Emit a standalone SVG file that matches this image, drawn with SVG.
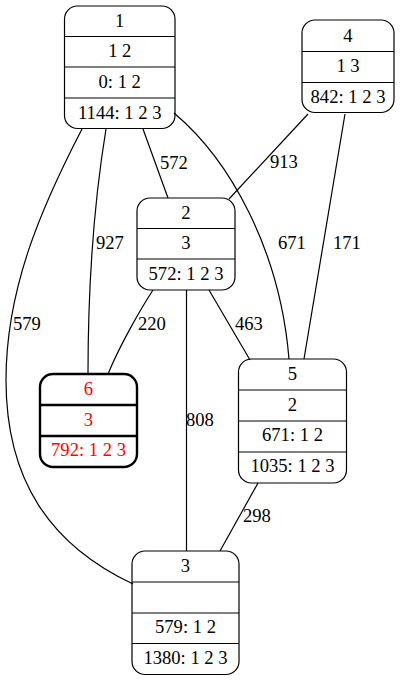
<svg xmlns="http://www.w3.org/2000/svg" width="406" height="680" viewBox="0 0 406 680" font-family="'Liberation Serif', 'DejaVu Serif', serif" font-size="18.6">
<style>
text{font-family:"Liberation Serif","DejaVu Serif",serif;font-size:18.6px;fill:#000}
.n text{text-anchor:middle}
.box{fill:none;stroke:#000;stroke-width:1.2}
.div{stroke:#000;stroke-width:1.2}
.e path{fill:none;stroke:#000;stroke-width:1.2}
.hl .box,.hl .div{stroke-width:2.4}
.hl text{fill:#ff0000}
</style>
<rect width="406" height="680" fill="#fff"/>
<g id="edges" class="e">
<path d="M143,129 L168,198"/>
<path d="M308,114 L229,199"/>
<path d="M174,113 C230,160 280,250 289,359"/>
<path d="M345,114 L304,359"/>
<path d="M106,129 C96,190 88,270 88,374"/>
<path d="M82,129 C40,210 6,290 6,380 C6,480 50,545 133,584"/>
<path d="M153,290 C140,310 120,345 108,374"/>
<path d="M209,290 L250,360"/>
<path d="M186.5,290 L186.5,551"/>
<path d="M258,483 L220,551"/>
<text x="160" y="169">572</text>
<text x="270" y="168">913</text>
<text x="96" y="249">927</text>
<text x="278" y="249">671</text>
<text x="333" y="249">171</text>
<text x="13" y="330">579</text>
<text x="138" y="330">220</text>
<text x="235" y="330">463</text>
<text x="186" y="426">808</text>
<text x="243" y="522">298</text>
</g>
<g id="node1" class="n">
<rect class="box" x="64.5" y="6" width="110.5" height="122.5" rx="13"/>
<line class="div" x1="64.5" y1="36.5" x2="175" y2="36.5"/>
<line class="div" x1="64.5" y1="67" x2="175" y2="67"/>
<line class="div" x1="64.5" y1="98" x2="175" y2="98"/>
<text x="119.75" y="26.5">1</text>
<text x="119.75" y="57">1 2</text>
<text x="119.75" y="88">0: 1 2</text>
<text x="119.75" y="118.5">1144: 1 2 3</text>
</g>
<g id="node4" class="n">
<rect class="box" x="302" y="20" width="92" height="92.5" rx="13"/>
<line class="div" x1="302" y1="51.5" x2="394" y2="51.5"/>
<line class="div" x1="302" y1="82.5" x2="394" y2="82.5"/>
<text x="348" y="41.5">4</text>
<text x="348" y="72">1 3</text>
<text x="348" y="102.5">842: 1 2 3</text>
</g>
<g id="node2" class="n">
<rect class="box" x="137" y="198" width="98" height="92" rx="13"/>
<line class="div" x1="137" y1="228.5" x2="235" y2="228.5"/>
<line class="div" x1="137" y1="259" x2="235" y2="259"/>
<text x="186" y="218.5">2</text>
<text x="186" y="249">3</text>
<text x="186" y="280">572: 1 2 3</text>
</g>
<g id="node6" class="n hl">
<rect class="box" x="40" y="374" width="97" height="93" rx="13"/>
<line class="div" x1="40" y1="405" x2="137" y2="405"/>
<line class="div" x1="40" y1="436" x2="137" y2="436"/>
<text x="88.5" y="395">6</text>
<text x="88.5" y="425.5">3</text>
<text x="88.5" y="456">792: 1 2 3</text>
</g>
<g id="node5" class="n">
<rect class="box" x="238.5" y="359" width="108" height="124" rx="13"/>
<line class="div" x1="238.5" y1="390" x2="346.5" y2="390"/>
<line class="div" x1="238.5" y1="421" x2="346.5" y2="421"/>
<line class="div" x1="238.5" y1="452" x2="346.5" y2="452"/>
<text x="292.5" y="380">5</text>
<text x="292.5" y="410.5">2</text>
<text x="292.5" y="441">671: 1 2</text>
<text x="292.5" y="472">1035: 1 2 3</text>
</g>
<g id="node3" class="n">
<rect class="box" x="132" y="551" width="107" height="123.5" rx="13"/>
<line class="div" x1="132" y1="582" x2="239" y2="582"/>
<line class="div" x1="132" y1="613" x2="239" y2="613"/>
<line class="div" x1="132" y1="643.5" x2="239" y2="643.5"/>
<text x="185.5" y="572">3</text>
<text x="185.5" y="633">579: 1 2</text>
<text x="185.5" y="664">1380: 1 2 3</text>
</g>
</svg>
